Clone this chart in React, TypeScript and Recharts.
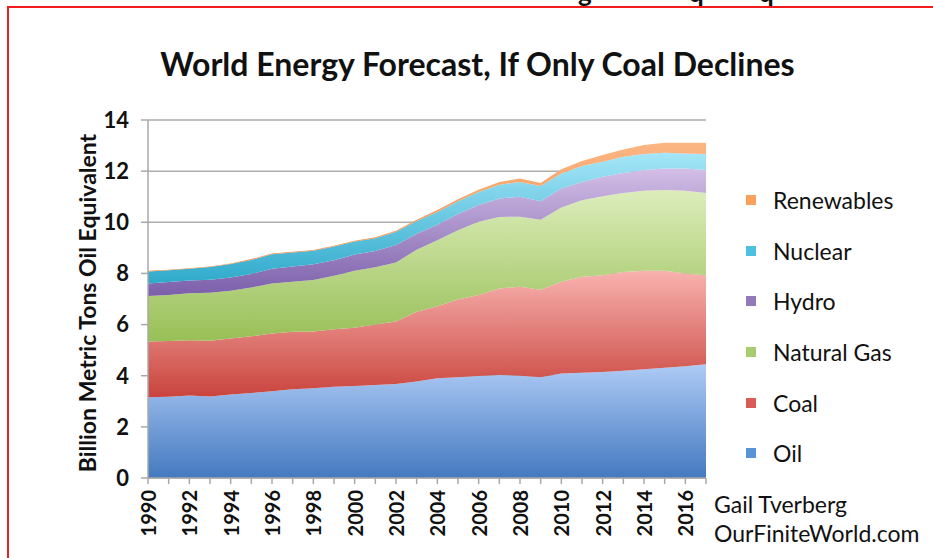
import React from "react";
import {
  AreaChart,
  Area,
  XAxis,
  YAxis,
  CartesianGrid,
} from "recharts";

// World energy use by fuel, billion metric tons oil equivalent
const years = [
  1990, 1991, 1992, 1993, 1994, 1995, 1996, 1997, 1998, 1999, 2000, 2001, 2002, 2003,
  2004, 2005, 2006, 2007, 2008, 2009, 2010, 2011, 2012, 2013, 2014, 2015, 2016, 2017,
];
const oil = [
  3.16, 3.18, 3.23, 3.19, 3.27, 3.32, 3.39, 3.47, 3.51, 3.57, 3.6, 3.64, 3.68, 3.77,
  3.9, 3.94, 3.99, 4.03, 4.0, 3.94, 4.09, 4.12, 4.15, 4.19, 4.25, 4.31, 4.37, 4.45,
];
const coal = [
  2.18, 2.18, 2.16, 2.18, 2.19, 2.22, 2.26, 2.25, 2.22, 2.25, 2.28, 2.36, 2.44, 2.73,
  2.82, 3.04, 3.17, 3.38, 3.48, 3.42, 3.58, 3.75, 3.78, 3.87, 3.85, 3.79, 3.63, 3.48,
];
const naturalGas = [
  1.78, 1.8, 1.83, 1.87, 1.86, 1.91, 1.96, 1.95, 2.01, 2.09, 2.22, 2.24, 2.31, 2.43,
  2.58, 2.71, 2.86, 2.8, 2.74, 2.74, 2.91, 2.99, 3.09, 3.09, 3.13, 3.16, 3.23, 3.22,
];
const hydro = [
  0.49, 0.5, 0.5, 0.51, 0.52, 0.53, 0.57, 0.6, 0.62, 0.61, 0.64, 0.64, 0.68, 0.62,
  0.6, 0.63, 0.66, 0.72, 0.78, 0.72, 0.74, 0.72, 0.76, 0.78, 0.81, 0.84, 0.87, 0.89,
];
const nuclear = [
  0.47, 0.46, 0.46, 0.5, 0.53, 0.55, 0.57, 0.55, 0.53, 0.53, 0.51, 0.5, 0.52, 0.5,
  0.5, 0.5, 0.5, 0.54, 0.58, 0.6, 0.59, 0.62, 0.59, 0.63, 0.63, 0.62, 0.59, 0.63,
];
const renewables = [
  0.02, 0.02, 0.02, 0.02, 0.02, 0.03, 0.03, 0.03, 0.03, 0.03, 0.03, 0.03, 0.04, 0.05,
  0.08, 0.08, 0.09, 0.11, 0.13, 0.12, 0.16, 0.2, 0.26, 0.29, 0.35, 0.39, 0.42, 0.44,
];
const yTicks = [0, 2, 4, 6, 8, 10, 12, 14];

const data = years.map((year, i) => ({
  year,
  Oil: oil[i],
  Coal: coal[i],
  "Natural Gas": naturalGas[i],
  Hydro: hydro[i],
  Nuclear: nuclear[i],
  Renewables: renewables[i],
}));

// bottom to top; light/dark ends of each vertical gradient plus legend swatch
const series = [
  { key: "Oil", id: "gOil", top: "#AECBF5", bottom: "#4479C0", swatch: "#5B93D8" },
  { key: "Coal", id: "gCoal", top: "#F8B2AF", bottom: "#C9443D", swatch: "#DA5C56" },
  { key: "Natural Gas", id: "gGas", top: "#DCEDBB", bottom: "#98BF56", swatch: "#A9CC6E" },
  { key: "Hydro", id: "gHydro", top: "#D2BEE6", bottom: "#7B5FAA", swatch: "#9279BA" },
  { key: "Nuclear", id: "gNuc", top: "#A5E6F8", bottom: "#2FAACB", swatch: "#4CC0DE" },
  { key: "Renewables", id: "gRen", top: "#FBB684", bottom: "#F08A3E", swatch: "#F9A25E" },
];

const font = "Lato, 'Open Sans', sans-serif";

const YearTick = (props: any) => {
  const { x, y, payload } = props;
  if (payload.value % 2 !== 0) return null;
  const ty = y + 4;
  return (
    <text
      x={x}
      y={ty}
      transform={`rotate(-90, ${x}, ${ty})`}
      textAnchor="end"
      dominantBaseline="central"
      fontFamily={font}
      fontWeight={700}
      fontSize={20}
      fill="#111"
    >
      {payload.value}
    </text>
  );
};

const App = () => {
  return (
    <div
      style={{
        position: "absolute",
        left: 0,
        top: 0,
        width: 933,
        height: 558,
        background: "#fff",
        overflow: "hidden",
        fontFamily: font,
      }}
    >
      {/* red frame */}
      <div style={{ position: "absolute", left: 7, top: 6, right: 0, height: 2, background: "#F21C1C" }} />
      <div style={{ position: "absolute", left: 7, top: 6, width: 2, bottom: 0, background: "#F21C1C" }} />

      {/* tail of the line above the frame */}
      <div style={{ position: "absolute", left: 0, top: 0, width: 933, height: 6, overflow: "hidden" }}>
        {[
          { ch: "g", x: 578 },
          { ch: "q", x: 689 },
          { ch: "q", x: 759 },
        ].map((g, i) => (
          <span
            key={i}
            style={{
              position: "absolute",
              left: g.x,
              top: -21,
              fontSize: 26,
              lineHeight: 1,
              fontWeight: 700,
              color: "#111",
            }}
          >
            {g.ch}
          </span>
        ))}
      </div>

      <div
        style={{
          position: "absolute",
          left: 0,
          width: 955,
          top: 44,
          textAlign: "center",
          fontSize: 32,
          fontWeight: 700,
          color: "#111",
        }}
      >
        World Energy Forecast, If Only Coal Declines
      </div>

      <div
        style={{
          position: "absolute",
          left: 87,
          top: 303,
          transform: "translate(-50%, -50%) rotate(-90deg)",
          whiteSpace: "nowrap",
          fontSize: 23,
          fontWeight: 700,
          color: "#111",
        }}
      >
        Billion Metric Tons Oil Equivalent
      </div>

      <AreaChart
        width={933}
        height={558}
        data={data}
        margin={{ top: 120, right: 227, bottom: 0, left: 78 }}
        style={{ position: "absolute", left: 0, top: 0 }}
      >
        <defs>
          {series.map((s) => (
            <linearGradient key={s.id} id={s.id} x1="0" y1="0" x2="0" y2="1">
              <stop offset="0%" stopColor={s.top} />
              <stop offset="100%" stopColor={s.bottom} />
            </linearGradient>
          ))}
        </defs>
        <CartesianGrid vertical={false} stroke="#ADADAD" strokeWidth={1.5} />
        <XAxis
          dataKey="year"
          interval={0}
          height={80}
          tick={<YearTick />}
          tickSize={6}
          stroke="#A8A8A8"
          strokeWidth={1.5}
        />
        <YAxis
          domain={[0, 14]}
          ticks={yTicks}
          width={70}
          tickSize={7}
          tickMargin={12}
          stroke="#A8A8A8"
          strokeWidth={1.5}
          tick={{ fill: "#111", fontSize: 22, fontWeight: 700, fontFamily: font }}
        />
        {series.map((s) => (
          <Area
            key={s.key}
            type="linear"
            dataKey={s.key}
            stackId="1"
            stroke="none"
            fill={`url(#${s.id})`}
            fillOpacity={1}
            isAnimationActive={false}
          />
        ))}
      </AreaChart>

      {/* legend, top entry is the top layer */}
      <div
        style={{
          position: "absolute",
          left: 746,
          top: 175,
          fontSize: 23,
          color: "#111",
        }}
      >
        {[...series].reverse().map((s) => (
          <div key={s.key} style={{ display: "flex", alignItems: "center", height: 50.6 }}>
            <div style={{ width: 10, height: 10, background: s.swatch, marginRight: 17 }} />
            <span>{s.key}</span>
          </div>
        ))}
      </div>

      <div
        style={{
          position: "absolute",
          left: 714,
          top: 490,
          fontSize: 23,
          lineHeight: "29px",
          color: "#111",
        }}
      >
        <div>Gail Tverberg</div>
        <div>OurFiniteWorld.com</div>
      </div>
    </div>
  );
};

export default App;
